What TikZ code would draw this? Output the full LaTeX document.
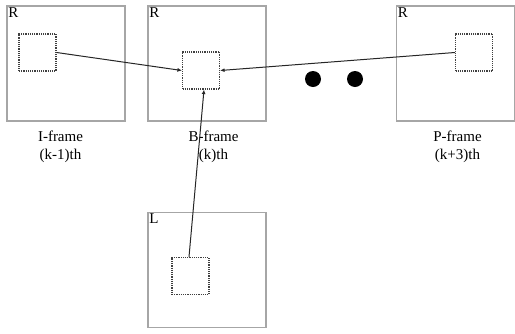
\documentclass[tikz,border=0pt]{standalone}
\usepackage{fontspec}
\setmainfont{Liberation Serif}
\usetikzlibrary{arrows.meta}
\begin{document}
\begin{tikzpicture}[x=1pt,y=-1pt,
  framebox/.style={draw=gray!70,line width=1.5pt,inner sep=0pt,minimum width=118pt,minimum height=115pt},
  blockbox/.style={draw=black!75,densely dotted,line width=1.2pt,inner sep=0pt,minimum size=37pt},
  lbl/.style={font=\fontsize{15}{18}\selectfont,inner sep=0pt,align=center},
  corner/.style={font=\fontsize{15}{18}\selectfont,inner sep=0pt,anchor=north west},
  mv/.style={draw=black!85,line width=1pt,-{Latex[length=4.5pt,width=4pt]}},
  dot/.style={circle,fill=black,inner sep=0pt,minimum size=16pt}]
\useasboundingbox (0,0) rectangle (515,333);
% frames
\node[framebox] (fi) at (66,63.5) {};
\node[framebox] (fb) at (207,63.5) {};
\node[framebox] (fp) at (455.5,63.5) {};
\node[framebox] (fl) at (207,270) {};
% corner letters
\node[corner] (ri) at ([xshift=2pt,yshift=-2pt]fi.north west) {R};
\node[corner] (rb) at ([xshift=2pt,yshift=-2pt]fb.north west) {R};
\node[corner] (rp) at ([xshift=2pt,yshift=-2pt]fp.north west) {R};
\node[corner] (rl) at ([xshift=2pt,yshift=-2pt]fl.north west) {L};
% blocks
\node[blockbox] (bi) at (37.5,52.5) {};
\node[blockbox] (bb) at (201,70.5) {};
\node[blockbox] (bp) at (474,52.5) {};
\node[blockbox] (bl) at (190.5,276) {};
% labels
\node[lbl] (ti) at (60.5,146.5) {I-frame\\(k-1)th};
\node[lbl] (tb) at (213.5,146.5) {B-frame\\(k)th};
\node[lbl] (tp) at (457.5,146.5) {P-frame\\(k+3)th};
% dots
\node[dot] (d1) at (313,79) {};
\node[dot] (d2) at (355,79) {};
% motion vectors
\draw[mv] (bi.east) -- (bb.west);
\draw[mv] (bp.west) -- (bb.east);
\draw[mv] ([xshift=-1.5pt]bl.north) -- ([xshift=3pt]bb.south);
\end{tikzpicture}
\end{document}
